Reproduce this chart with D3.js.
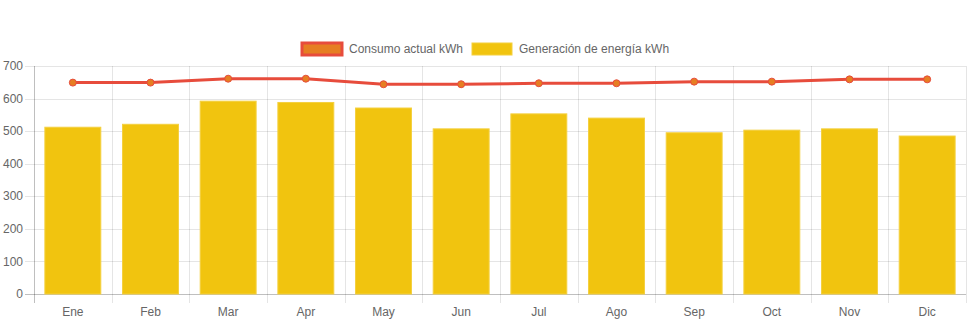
<!DOCTYPE html>
<html>
<head>
<meta charset="utf-8">
<script src="https://cdn.jsdelivr.net/npm/d3@7"></script>
<style>
  html, body { margin: 0; padding: 0; background: #fff; }
  svg { display: block; font-family: "Liberation Sans", Arial, Helvetica, sans-serif; }
</style>
</head>
<body>
<svg id="chart" width="971" height="323"></svg>
<script>
// Monthly energy data (kWh)
const months = ["Ene", "Feb", "Mar", "Apr", "May", "Jun", "Jul", "Ago", "Sep", "Oct", "Nov", "Dic"];
const consumo = [649, 649, 661, 661, 644, 644, 647, 647, 652, 652, 659, 659];
const generacion = [512, 521, 592, 588, 571, 507, 553, 540, 495, 503, 507, 485];
const yTicks = [0, 100, 200, 300, 400, 500, 600, 700];
const seriesNames = ["Consumo actual kWh", "Generación de energía kWh"];

const svg = d3.select("#chart");
const W = 971, H = 323;
const m = { left: 34, right: 5, top: 66, bottom: 29 };

const x = d3.scaleBand().domain(months).range([m.left, W - m.right]).paddingInner(0).paddingOuter(0);
const y = d3.scaleLinear().domain([0, 700]).range([H - m.bottom, m.top]);

const gridColor = "rgba(0,0,0,0.1)";
const axisColor = "rgba(0,0,0,0.25)";
const textColor = "#666";

// horizontal grid lines with tick marks
const gy = svg.append("g");
yTicks.forEach(t => {
  gy.append("line")
    .attr("x1", m.left - 9).attr("x2", W - m.right)
    .attr("y1", Math.round(y(t)) + 0.5).attr("y2", Math.round(y(t)) + 0.5)
    .attr("stroke", t === 0 ? axisColor : gridColor).attr("stroke-width", 1);
  gy.append("text")
    .attr("x", m.left - 11).attr("y", y(t)).attr("dy", "0.35em")
    .attr("text-anchor", "end").attr("font-size", 12).attr("fill", textColor)
    .text(t);
});

// vertical grid lines at category boundaries
const bounds = months.map(d => x(d)).concat([W - m.right]);
bounds.forEach((bx, i) => {
  svg.append("line")
    .attr("x1", Math.round(bx) + 0.5).attr("x2", Math.round(bx) + 0.5)
    .attr("y1", m.top).attr("y2", H - m.bottom + 9)
    .attr("stroke", i === 0 ? axisColor : gridColor).attr("stroke-width", 1);
});

// x labels
months.forEach(d => {
  svg.append("text")
    .attr("x", x(d) + x.bandwidth() / 2).attr("y", H - m.bottom + 18).attr("dy", "0.35em")
    .attr("text-anchor", "middle").attr("font-size", 12).attr("fill", textColor)
    .text(d);
});

// bars: generation
const barW = x.bandwidth() * 0.72;
svg.append("g").selectAll("rect").data(generacion).join("rect")
  .attr("x", (d, i) => x(months[i]) + (x.bandwidth() - barW) / 2)
  .attr("y", d => y(d))
  .attr("width", barW)
  .attr("height", d => y(0) - y(d))
  .attr("fill", "#f1c40f")
  .attr("stroke", "#f4d03f").attr("stroke-width", 1);

// line: consumption
const cx = i => x(months[i]) + x.bandwidth() / 2;
const line = d3.line().x((d, i) => cx(i)).y(d => y(d));
svg.append("path").datum(consumo)
  .attr("d", line).attr("fill", "none")
  .attr("stroke", "#e74c3c").attr("stroke-width", 3);
svg.append("g").selectAll("circle").data(consumo).join("circle")
  .attr("cx", (d, i) => cx(i)).attr("cy", d => y(d)).attr("r", 3.5)
  .attr("fill", "#e67e22").attr("stroke", "#e74c3c").attr("stroke-width", 1);

// legend
const leg = svg.append("g");
const legItems = [
  { name: seriesNames[0], fill: "#e67e22", stroke: "#e74c3c", sw: 3, x: 302 },
  { name: seriesNames[1], fill: "#f1c40f", stroke: "#f4d03f", sw: 1, x: 472 }
];
legItems.forEach(it => {
  leg.append("rect")
    .attr("x", it.x).attr("y", 43).attr("width", 40).attr("height", 12)
    .attr("fill", it.fill).attr("stroke", it.stroke).attr("stroke-width", it.sw);
  leg.append("text")
    .attr("x", it.x + 47).attr("y", 49).attr("dy", "0.35em")
    .attr("font-size", 12).attr("fill", textColor).text(it.name);
});
</script>
</body>
</html>
